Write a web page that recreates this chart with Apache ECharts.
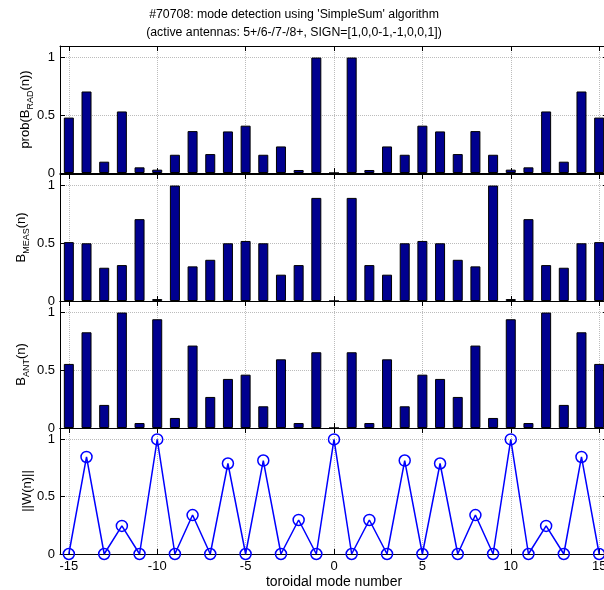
<!DOCTYPE html>
<html>
<head>
<meta charset="utf-8">
<script src="https://cdn.jsdelivr.net/npm/echarts@6/dist/echarts.min.js"></script>
<style>
  html, body { margin: 0; padding: 0; overflow: hidden; background: #fff; }
  #chart { width: 612px; height: 590px; }
</style>
</head>
<body>
<div id="chart"></div>
<script>
// toroidal mode numbers
const modes = [-15,-14,-13,-12,-11,-10,-9,-8,-7,-6,-5,-4,-3,-2,-1,0,1,2,3,4,5,6,7,8,9,10,11,12,13,14,15];

// probability of radial field per mode
const probRad = [0.48,0.706,0.098,0.533,0.049,0.029,0.158,0.363,0.164,0.36,0.41,0.158,0.23,0.026,1.0,0,1.0,0.026,0.23,0.158,0.41,0.36,0.164,0.363,0.158,0.029,0.049,0.533,0.098,0.706,0.48];
// measured field per mode
const bMeas = [0.51,0.5,0.288,0.311,0.709,0.017,1.0,0.3,0.357,0.5,0.52,0.5,0.228,0.311,0.893,0,0.893,0.311,0.228,0.5,0.52,0.5,0.357,0.3,1.0,0.017,0.709,0.311,0.288,0.5,0.51];
// antenna field per mode
const bAnt = [0.555,0.829,0.2,1.0,0.043,0.942,0.087,0.714,0.269,0.425,0.462,0.188,0.595,0.043,0.656,0,0.656,0.043,0.595,0.188,0.462,0.425,0.269,0.714,0.087,0.942,0.043,1.0,0.2,0.829,0.555];
// weight norm per mode
const wNorm = [0,0.847,0,0.245,0,1.0,0,0.34,0,0.79,0,0.816,0,0.297,0,1.0,0,0.297,0,0.816,0,0.79,0,0.34,0,1.0,0,0.245,0,0.847,0];

const xTicks = [-15,-10,-5,0,5,10,15];
const yTicks = [0,0.5,1];

const FONT = 'Liberation Sans, Arial, Helvetica, sans-serif';
const BAR_COLOR = '#00008f';
const LINE_COLOR = '#0000ff';

const panelTops = [46, 174, 301, 428];
const panelHeight = 127;

const subRich = {
  m: { fontSize: 13, lineHeight: 20, fontFamily: FONT, color: '#000' },
  s: { fontSize: 9, lineHeight: 10, verticalAlign: 'bottom', fontFamily: FONT, color: '#000' }
};
const yNames = [
  { text: '{m|prob(B}{s|RAD}{m|(n))}', gap: 25 },
  { text: '{m|B}{s|MEAS}{m|(n)}', gap: 29 },
  { text: '{m|B}{s|ANT}{m|(n)}', gap: 29 },
  { text: '{m|||W(n)||}', gap: 23 }
];

const gridLine = { show: true, lineStyle: { type: 'dotted', color: '#bcbcbc', width: 1 } };
const axisLineStyle = { show: true, onZero: false, lineStyle: { color: '#000', width: 1 } };

const grids = [], xAxes = [], yAxes = [], series = [];

panelTops.forEach((top, i) => {
  grids.push({ left: 60, right: 4, top: top, height: panelHeight });
  const isLast = i === panelTops.length - 1;
  // bottom x axis
  xAxes.push({
    type: 'value', gridIndex: i, position: 'bottom', min: -15.5, max: 15.5,
    axisLine: axisLineStyle,
    axisTick: { show: true, inside: true, length: 5, customValues: xTicks, lineStyle: { color: '#000' } },
    axisLabel: { show: isLast, customValues: xTicks, margin: 6, fontSize: 13, fontFamily: FONT, color: '#000' },
    splitLine: gridLine,
    name: isLast ? 'toroidal mode number' : '',
    nameLocation: 'middle', nameGap: 21, nameMoveOverlap: false,
    nameTextStyle: { fontSize: 14, fontFamily: FONT, color: '#000', verticalAlign: 'top' }
  });
  // top x axis (box)
  xAxes.push({
    type: 'value', gridIndex: i, position: 'top', min: -15.5, max: 15.5,
    axisLine: axisLineStyle,
    axisTick: { show: true, inside: true, length: 5, customValues: xTicks, lineStyle: { color: '#000' } },
    axisLabel: { show: false },
    splitLine: { show: false }
  });
  // left y axis
  yAxes.push({
    type: 'value', gridIndex: i, position: 'left', min: 0, max: 1.1,
    axisLine: axisLineStyle,
    axisTick: { show: true, inside: true, length: 5, customValues: yTicks, lineStyle: { color: '#000' } },
    axisLabel: { show: true, customValues: yTicks, margin: 5, fontSize: 13, fontFamily: FONT, color: '#000' },
    splitLine: gridLine,
    name: yNames[i].text, nameLocation: 'middle', nameGap: yNames[i].gap, nameRotate: 90,
    nameMoveOverlap: false,
    nameTextStyle: { rich: subRich }
  });
  // right y axis (box)
  yAxes.push({
    type: 'value', gridIndex: i, position: 'right', min: 0, max: 1.1,
    axisLine: axisLineStyle,
    axisTick: { show: true, inside: true, length: 5, customValues: yTicks, lineStyle: { color: '#000' } },
    axisLabel: { show: false },
    splitLine: { show: false }
  });
});

const barSets = [probRad, bMeas, bAnt];
barSets.forEach((vals, i) => {
  series.push({
    type: 'bar', xAxisIndex: i * 2, yAxisIndex: i * 2, barWidth: 10,
    data: modes.map((m, k) => [m, vals[k]]),
    itemStyle: { color: BAR_COLOR, borderColor: '#000', borderWidth: 1 },
    silent: true, z: 3
  });
});
series.push({
  type: 'line', xAxisIndex: 6, yAxisIndex: 6,
  data: modes.map((m, k) => [m, wNorm[k]]),
  lineStyle: { color: LINE_COLOR, width: 1.5 },
  symbol: 'circle', symbolSize: 11, showAllSymbol: true,
  itemStyle: { color: 'transparent', borderColor: LINE_COLOR, borderWidth: 1.5 },
  clip: false, silent: true, z: 3, animation: false
});

const chart = echarts.init(document.getElementById('chart'), null, { renderer: 'canvas' });
chart.setOption({
  animation: false,
  backgroundColor: '#fff',
  title: {
    text: "#70708: mode detection using 'SimpleSum' algorithm\n(active antennas: 5+/6-/7-/8+, SIGN=[1,0,0-1,-1,0,0,1])",
    left: 289, top: 1, textAlign: 'center',
    textStyle: { fontSize: 12.3, fontWeight: 'normal', fontFamily: FONT, color: '#000', lineHeight: 18 }
  },
  grid: grids,
  xAxis: xAxes,
  yAxis: yAxes,
  series: series
});
</script>
</body>
</html>
